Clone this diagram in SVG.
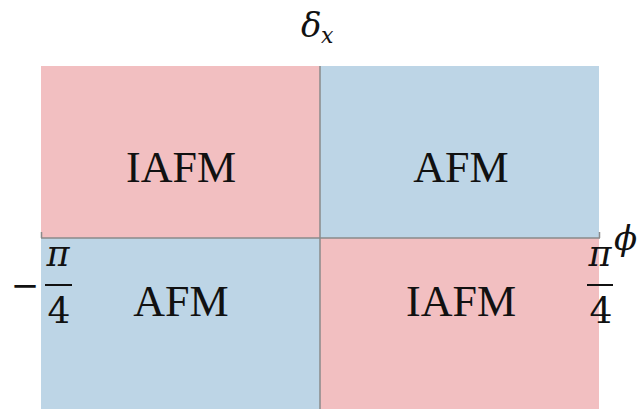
<svg xmlns="http://www.w3.org/2000/svg" width="641" height="409" viewBox="0 0 641 409">
<style>
.pink{fill:#F2BFC1}
.blue{fill:#BDD5E6}
.lbl{font-family:"Liberation Serif","DejaVu Serif",serif;font-size:44px;fill:#111;text-anchor:middle}
.math{font-family:"DejaVu Serif","Liberation Serif",serif;fill:#111}
.it{font-style:italic}
.axis{stroke:#8a8a8a;stroke-width:1.5;fill:none}
.bar{stroke:#111;stroke-width:2}
</style>
<rect width="641" height="409" fill="#fff"/>
<g id="q-top-left"><rect class="pink" x="41" y="66" width="279" height="172"/><text class="lbl" x="181" y="182">IAFM</text></g>
<g id="q-top-right"><rect class="blue" x="320" y="66" width="279" height="172"/><text class="lbl" x="461" y="182">AFM</text></g>
<g id="q-bottom-left"><rect class="blue" x="41" y="238" width="279" height="171"/><text class="lbl" x="181" y="316">AFM</text></g>
<g id="q-bottom-right"><rect class="pink" x="320" y="238" width="279" height="171"/><text class="lbl" x="461" y="316">IAFM</text></g>
<g id="axes">
<line class="axis" x1="320" y1="66" x2="320" y2="409"/>
<line class="axis" x1="41" y1="238" x2="600" y2="238"/>
<line class="axis" x1="41.5" y1="232" x2="41.5" y2="238"/>
<line class="axis" x1="599.5" y1="232" x2="599.5" y2="238"/>
</g>
<g id="label-delta"><text class="math it" x="301" y="37" font-size="34">δ</text><text class="math it" x="321" y="43" font-size="22">x</text></g>
<g id="label-phi"><text class="math it" x="614" y="250" font-size="34">ϕ</text></g>
<g id="label-minus-pi4">
<text class="math" x="25" y="297" font-size="34" text-anchor="middle">−</text>
<text class="math it" x="58" y="266" font-size="35" text-anchor="middle">π</text>
<line class="bar" x1="45" y1="285" x2="72" y2="285"/>
<text class="math" x="59" y="323" font-size="36" text-anchor="middle">4</text>
</g>
<g id="label-pi4">
<text class="math it" x="600" y="266" font-size="35" text-anchor="middle">π</text>
<line class="bar" x1="587" y1="285" x2="613" y2="285"/>
<text class="math" x="601" y="323" font-size="36" text-anchor="middle">4</text>
</g>
</svg>
